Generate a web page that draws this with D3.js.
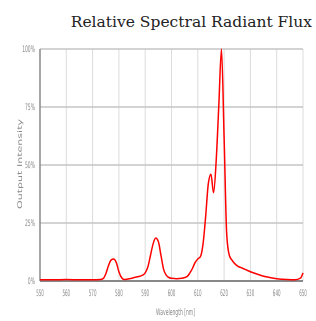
<!DOCTYPE html>
<html>
<head>
<meta charset="utf-8">
<script src="https://cdn.jsdelivr.net/npm/d3@7"></script>
<style>
  body { margin: 0; background: #fff; }
  svg { display: block; }
</style>
</head>
<body>
<div id="chart"></div>
<script>
// spectrum (nm, % of peak)
var wavelengths = [550, 555, 560, 565, 570, 573, 574, 575, 576, 577, 578, 579, 580, 581, 582, 583, 585, 587, 589, 590,
  591, 592, 593, 594, 595, 596, 597, 598, 599, 600, 602, 604, 606, 607, 608, 609, 610, 611, 612, 613,
  614, 615, 616, 617, 618, 619, 620, 621, 622, 623, 624, 625, 627, 630, 633, 636, 640, 644, 647, 649, 650];
var intensity = [0.5, 0.5, 0.6, 0.5, 0.5, 0.6, 1.0, 3, 6.5, 9, 9.5, 8, 4, 1.5, 0.7, 0.8, 1.2, 1.8, 2.5, 3.5,
  6, 11, 16, 18.5, 17, 11, 5, 2.5, 1.5, 1.2, 1.0, 1.2, 2.0, 3.5, 5.5, 8, 9.5, 10.5, 16, 28,
  42, 46, 38, 52, 76, 100, 62, 20, 11, 9, 7.5, 6.5, 5.5, 4, 2.8, 1.8, 1.0, 0.6, 0.5, 1.2, 3.5];

var xTicks = [550, 560, 570, 580, 590, 600, 610, 620, 630, 640, 650];
var yTicks = [0, 25, 50, 75, 100];

var width = 316, height = 321;
var plotLeft = 40, plotRight = 303, plotTop = 49, plotBottom = 281;

var svg = d3.select("#chart").append("svg")
    .attr("width", width)
    .attr("height", height);

var defs = svg.append("defs");
defs.append("filter").attr("id", "soft")
    .append("feGaussianBlur").attr("stdDeviation", 0.35);
defs.append("filter").attr("id", "softer")
    .append("feGaussianBlur").attr("stdDeviation", 0.5);

var x = d3.scaleLinear().domain([550, 650]).range([plotLeft, plotRight]);
var y = d3.scaleLinear().domain([0, 100]).range([plotBottom, plotTop]);

// vertical grid
svg.append("g")
    .selectAll("line")
    .data(xTicks)
    .join("line")
    .attr("x1", d => x(d)).attr("x2", d => x(d))
    .attr("y1", plotTop).attr("y2", plotBottom)
    .attr("stroke", "#dcdcdc")
    .attr("stroke-width", 1);

// horizontal grid
svg.append("g")
    .selectAll("line")
    .data(yTicks)
    .join("line")
    .attr("x1", plotLeft).attr("x2", plotRight)
    .attr("y1", d => y(d)).attr("y2", d => y(d))
    .attr("stroke", d => d === 0 ? "#888" : "#c4c4c4")
    .attr("stroke-width", d => d === 0 ? 2 : 1.5);

// left axis line
svg.append("line")
    .attr("x1", plotLeft).attr("x2", plotLeft)
    .attr("y1", plotTop).attr("y2", plotBottom)
    .attr("stroke", "#777")
    .attr("stroke-width", 1.2);

var labelFont = "'DejaVu Sans', 'Liberation Sans', sans-serif";

// squeezed grey labels like the small raster original
function squeezed(sel, px, py, sx) {
    return sel.attr("transform", "translate(" + px + "," + py + ") scale(" + sx + ",1)")
        .attr("font-family", labelFont)
        .attr("font-size", 9)
        .attr("fill", "#8a8a8a")
        .attr("filter", "url(#softer)");
}

// y tick labels
svg.append("g")
    .selectAll("text")
    .data(yTicks)
    .join("text")
    .each(function (d) {
        squeezed(d3.select(this), plotLeft - 5, y(d) + 3, 0.5);
    })
    .attr("text-anchor", "end")
    .text(d => d + "%");

// x tick labels
svg.append("g")
    .selectAll("text")
    .data(xTicks)
    .join("text")
    .each(function (d) {
        squeezed(d3.select(this), x(d), plotBottom + 15, 0.45);
    })
    .attr("text-anchor", "middle")
    .text(d => d);

// axis titles
squeezed(svg.append("text"), (plotLeft + plotRight) / 2 + 4, 315, 0.5)
    .attr("text-anchor", "middle")
    .text("Wavelength [nm]");

svg.append("text")
    .attr("transform", "translate(22," + 164 + ") rotate(-90)")
    .attr("text-anchor", "middle")
    .attr("font-family", labelFont)
    .attr("font-size", 6.5)
    .attr("fill", "#8a8a8a")
    .attr("filter", "url(#softer)")
    .attr("textLength", 90)
    .attr("lengthAdjust", "spacingAndGlyphs")
    .text("Output Intensity");

// chart title
svg.append("text")
    .attr("x", 312)
    .attr("y", 27)
    .attr("text-anchor", "end")
    .attr("font-family", "'DejaVu Serif', serif")
    .attr("font-size", 15.5)
    .attr("fill", "#222")
    .text("Relative Spectral Radiant Flux");

// spectrum line
var points = wavelengths.map((w, i) => ({ w: w, v: intensity[i] }));
var line = d3.line()
    .x(d => x(d.w))
    .y(d => y(d.v))
    .curve(d3.curveMonotoneX);

svg.append("path")
    .datum(points)
    .attr("fill", "none")
    .attr("stroke", "#f00")
    .attr("stroke-width", 1.5)
    .attr("stroke-linejoin", "round")
    .attr("filter", "url(#soft)")
    .attr("d", line);
</script>
</body>
</html>
